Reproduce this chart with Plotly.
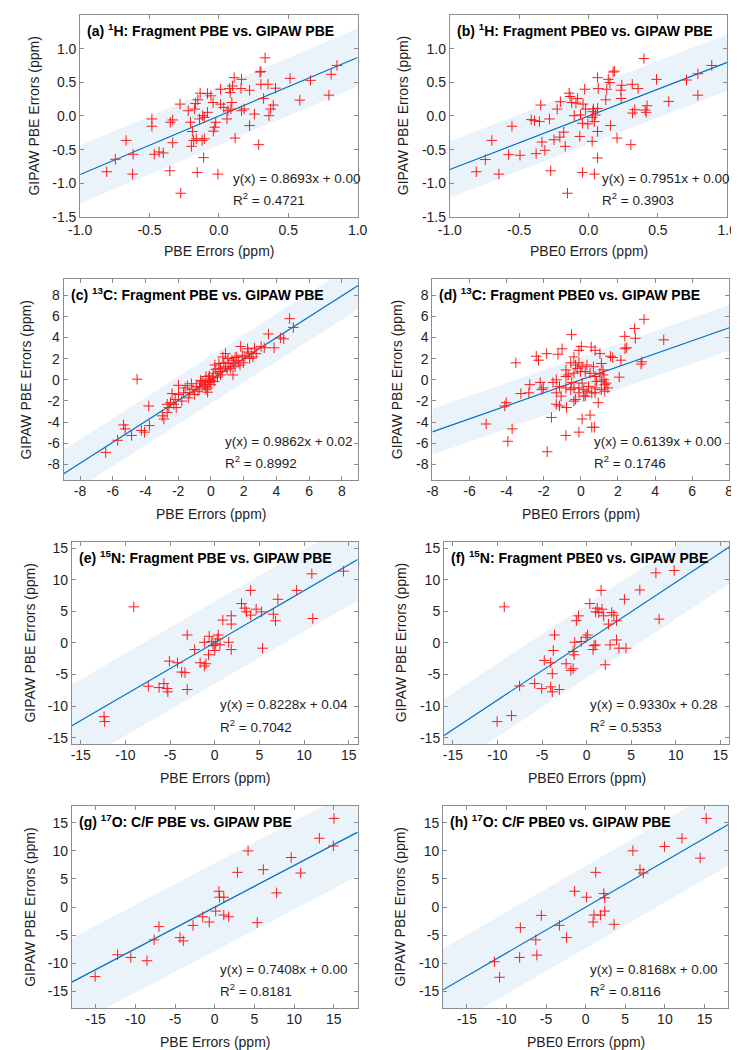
import plotly.graph_objects as go

W, H = 739, 1050

# ---------------- data ----------------
a_x = [0.333, 0.296, 0.303, 0.110, 0.163, 0.098, 0.077, 0.159, 0.221, 0.012, 0.082, 0.303, 0.354, 0.408,
       0.513, 0.660, 0.809, 0.851, 0.793, 0.583, 0.322, 0.392, 0.373, 0.361, 0.256, 0.182, 0.163, 0.086,
       0.065, 0.093, 0.012, -0.042, -0.058, -0.082, -0.135, -0.152, -0.168, -0.280, -0.175, -0.117,
       -0.105, -0.082, -0.023, -0.030, -0.040, -0.205, -0.333, -0.350, -0.483, -0.483, -0.191, -0.182,
       -0.163, -0.105, -0.121, -0.198, -0.333, -0.431, -0.401, -0.466, -0.618, -0.669, -0.746, -0.809,
       -0.622, -0.354, -0.156, -0.110, -0.007, -0.275, 0.117, 0.221, 0.287, 0.058, 0.035, -0.221, -0.140]
a_y = [0.863, 0.652, 0.662, 0.569, 0.544, 0.446, 0.407, 0.407, 0.382, 0.397, 0.348, 0.470, 0.470, 0.412,
       0.559, 0.529, 0.618, 0.750, 0.309, 0.235, 0.260, 0.162, 0.103, 0.005, 0.029, 0.103, 0.078, 0.103,
       0.078, 0.200, 0.176, 0.200, 0.299, 0.333, 0.338, 0.240, 0.186, 0.176, 0.103, 0.005,
       -0.020, 0.054, -0.093, -0.167, -0.225, -0.093, -0.059, -0.093, -0.044, -0.152, -0.230, -0.363,
       -0.338, -0.338, -0.363, -0.451, -0.397, -0.534, -0.549, -0.569, -0.569, -0.363, -0.642, -0.828,
       -0.863, -0.814, -0.838, -0.618, -0.863, -1.147, -0.328, -0.142, -0.426, -0.044, 0.127, 0.078, -0.044]

b_x = [0.399, 0.888, 0.788, 0.706, 0.788, 0.578, 0.490, 0.315, 0.357, 0.240, 0.233, 0.177, 0.186, 0.142,
       0.154, 0.065, 0.070, 0.131, 0.124, 0.235, 0.065, 0.035, 0.049, 0.026, 0.042, -0.005, -0.044,
       -0.021, -0.028, -0.079, -0.091, -0.040, -0.140, -0.133, -0.203, -0.121, -0.226, -0.103, -0.282,
       -0.345, -0.354, -0.390, -0.413, -0.552, -0.697, -0.744, -0.809, -0.646, -0.576, -0.494, -0.378,
       -0.336, -0.315, -0.249, -0.207, -0.179, -0.168, -0.063, 0.026, 0.065, 0.158, 0.205, 0.305, 0.317,
       0.333, 0.408, 0.422, 0.415, 0.065, -0.044, 0.042, -0.273, -0.152, -0.058, 0.030]
b_y = [0.853, 0.750, 0.627, 0.534, 0.309, 0.216, 0.544, 0.470, 0.407, 0.456, 0.382, 0.652, 0.667, 0.544,
       0.495, 0.569, 0.407, 0.397, 0.240, 0.260, 0.113, 0.103, 0.015, -0.020, -0.083, -0.118, -0.108,
       0.103, 0.397, 0.260, 0.191, 0.176, 0.338, 0.289, 0.211, 0.200, 0.103, 0.005, -0.044,
       0.162, -0.083, -0.069, -0.054, -0.152, -0.363, -0.647, -0.828, -0.863, -0.574, -0.583, -0.559,
       -0.387, -0.510, -0.353, -0.314, -0.240, -0.451, -0.304, -0.377, -0.230, -0.142, -0.328, -0.426, 0.044,
       0.093, 0.088, 0.152, 0.054, -0.623, -0.838, -0.863, -0.814, -1.147, 0.015, 0.064]

c_x = [4.81, 5.04, 3.52, 4.25, 4.45, 3.86, 3.26, 3.07, 2.67, 2.24, 1.82, 2.28, 2.57, 1.92, 1.58, 1.29, 0.89,
       0.73, 1.09, 1.48, 1.35, 0.49, 0.30, 0.24, 0.14, -0.10, -0.10, -0.20, -0.30, -0.40, -0.63, -0.69,
       -0.89, -0.79, -1.19, -1.29, -1.68, -1.58, -1.98, -1.98, -2.37, -2.47, -2.67, -2.57, -2.97, -2.87,
       -3.80, -4.51, -5.34, -5.24, -4.85, -4.25, -4.06, -3.76, -5.70, -6.43,
       -0.30, -0.14, 0.00, 0.10, -0.49, -0.59, -0.34, -0.20, 0.00, 0.20, 0.49, 0.59, 0.79, 0.89, 0.99, 1.19,
       1.38, 1.68, 1.78, 1.98, 2.08, 2.37, 2.47, 2.77, 1.48, 1.05, 0.59, 0.40, 0.69, -0.99, -1.38, -1.78,
       -2.12, -2.18, -2.67, -2.27, -1.09, -1.44]
c_y = [5.77, 4.94, 4.32, 3.95, 3.86, 3.02, 3.02, 3.15, 2.99, 2.93, 3.15, 2.62, 2.16, 2.31, 2.16, 1.85, 2.47,
       2.16, 1.54, 1.23, 0.46, 1.54, 0.99, 1.39, 0.62, 0.37, -0.25, -0.77, -0.93, -0.46, -0.06, -0.77,
       -0.62, -1.08, -0.37, -1.23, -1.23, -0.77, -0.52, -1.39, -1.30, -2.16, -2.31, -2.62, -3.40, -3.70,
       -2.47, 0.06, -4.26, -4.63, -5.25, -4.78, -4.94, -4.32, -5.71, -6.85,
       0.31, 0.06, -0.06, 0.15, -0.15, -0.31, -0.62, -1.17, -0.46, -0.15, 0.77, 1.08, 1.60, 1.23, 0.93, 1.08,
       1.60, 1.79, 1.39, 1.60, 2.16, 2.01, 2.47, 2.47, 2.10, 2.01, 0.46, 0.25, 0.77, -1.39, -1.70, -2.01,
       -2.62, -1.85, -3.09, -2.31, -0.93, -0.56]

d_x = [3.41, 2.90, 2.37, 2.94, 4.47, 2.47, 2.38, 1.60, 1.72, 2.16, 3.29, 3.25, 2.07, -0.50, 0.03, -0.10,
       0.56, 0.77, 1.03, -1.01, -1.23, -1.84, -2.40, -2.28, -3.50, -0.37, -0.54, -0.28, -0.10, 0.07, 0.33,
       0.68, 1.11, 1.20, -0.80, -0.68, -0.37, -1.32, -1.50, -2.19, -2.02, -2.10, -2.75, -3.23, -2.80, -1.32,
       -1.15, -1.06, -1.32, -1.15, -0.77, -0.10, 0.16, 0.24, 0.42, 0.77, 1.11, 1.29, 1.25, 0.94, -0.37, 0.07,
       0.50, 0.59, 0.73, -0.10, -0.80, -1.58, -4.02, -4.10, -5.10, -3.70, -3.93, -1.81,
       -0.19, -0.02, 0.24, 0.50, 0.77, 1.03, 1.20, 0.07, 0.33, 0.59, 0.85, 1.11, 1.37, 1.46, -0.10, 0.16,
       -0.37, -0.54, -0.80, -0.28, 0.77, 1.29, -0.80, -0.49]
d_y = [5.71, 4.85, 4.10, 3.92, 3.77, 3.02, 2.93, 2.22, 2.10, 1.85, 1.70, 1.48, 0.25, 4.26, 3.15, 2.78,
       3.09, 2.78, 2.47, 2.93, 2.41, 2.47, 2.22, 1.85, 1.60, 2.16, 1.60, 1.39, 1.60, 1.23, 1.39,
       1.23, 1.54, 0.93, 0.93, 0.46, 0.62, 0.00, -0.25, -0.25, -0.77, -0.93, -0.46, -1.30, -1.23, -1.23,
       -0.62, -1.54, -2.31, -2.47, -2.62, -0.77, -0.93, -1.54, -0.62, -0.77, -0.93, -0.46, 0.00, -2.16, -2.01, -3.70,
       -3.33, -4.48, -4.48, -4.94, -5.25, -3.55, -2.16, -2.47, -4.17, -4.63, -5.80, -6.79,
       1.08, 0.77, 0.77, 0.62, 0.31, 0.62, 0.46, -0.31, -1.08, -1.23, -0.15, -0.15, -0.31, -0.77, -1.23, -1.54,
       -0.77, -0.93, -0.77, -1.85, -1.23, -1.08, 0.31, -0.25]

e_x = [14.42, 10.87, 9.17, 4.02, 7.07, 3.00, 3.37, 3.55, 4.64, 4.02, 5.25, 6.56, 6.81, 10.98, 0.91, 1.85,
       1.85, -9.06, -3.08, -0.62, 0.40, -1.16, -0.33, 0.11, 0.58, 1.56, -2.25, -0.69, 0.00, 1.85, 5.36,
       -5.07, -4.17, -3.70, -3.33, -1.63, -1.16, -0.98, -7.43, -6.23, -5.69, -5.33, -5.25, -3.08, -12.39,
       -12.32, 0.29, -0.18]
e_y = [11.36, 10.94, 8.32, 8.32, 6.91, 6.23, 5.50, 4.92, 5.34, 4.40, 4.92, 4.55, 3.51, 3.87, 3.61, 4.29,
       2.98, 5.71, 1.26, 1.05, 1.26, 0.10, 0.21, -0.16, -0.31, 0.10, -1.05, -1.88, -1.20, -1.05, -0.84,
       -2.88, -3.14, -4.61, -4.71, -3.14, -3.66, -3.30, -6.86, -7.07, -6.44, -7.23, -7.75, -7.38, -11.68,
       -12.46, 0.63, -0.42]

f_x = [9.82, 7.77, 5.97, 1.62, 4.24, 0.36, 1.19, 1.01, 1.73, 1.37, 1.91, 2.81, 3.06, 2.45, 3.35, 8.13,
       -1.15, -0.90, -9.24, -3.60, 0.11, -0.07, -0.61, -1.33, 0.83, 1.01, 0.72, 2.63, 3.35, 3.63, 4.42,
       -3.74, -1.51, -1.40, -4.75, -4.03, -2.30, -1.76, -1.51, -3.85, 2.09, -5.83, -7.52, -5.04, -4.03,
       -3.85, -3.06, -8.42, -10.04]
f_y = [11.47, 11.10, 8.38, 8.32, 6.91, 6.23, 5.50, 4.92, 5.34, 4.82, 4.29, 4.82, 4.40, 2.98, 3.51, 3.77,
       3.51, 4.29, 5.71, 1.26, 1.26, 0.89, 0.21, 0.10, -0.42, -0.31, -1.05, -0.31, 0.47, -0.84, -0.84,
       -1.20, -1.36, -1.88, -2.77, -3.14, -3.30, -4.35, -4.08, -4.87, -3.46, -6.44, -6.81, -7.23, -6.96,
       -7.75, -7.38, -11.52, -12.46]

g_x = [15.02, 13.18, 14.94, 4.20, 9.63, 10.82, 6.12, 2.86, 7.80, 0.53, 0.61, 1.14, 0.12, -0.69, -1.51,
       1.14, 1.76, 5.35, -2.73, -7.02, -7.63, -4.37, -3.96, -12.24, -10.57, -8.53, -15.06]
g_y = [15.76, 12.24, 10.88, 10.00, 8.82, 6.06, 6.65, 6.18, 2.53, 2.82, 1.76, 1.76, -0.71, -2.65, -1.71,
       -1.41, -1.71, -2.76, -3.24, -3.47, -5.82, -5.41, -6.00, -8.47, -8.94, -9.53, -12.35]

h_x = [15.22, 12.16, 9.96, 14.45, 5.96, 6.86, 7.27, 1.27, -1.39, 0.12, 2.29, 2.41, -5.59, 1.06, 1.88,
       2.41, 0.94, 3.59, -3.31, -2.41, -8.24, -6.29, -6.16, -8.33, -11.51, -10.86]
h_y = [15.76, 12.24, 10.76, 8.71, 10.00, 6.65, 6.06, 6.18, 2.82, 1.76, 2.41, 1.65, -1.47, -1.41, -1.41,
       -0.71, -2.65, -3.06, -3.24, -5.41, -3.65, -5.82, -8.53, -8.94, -9.71, -12.47]

# fit results shown in each panel
slopes = [0.8693, 0.7951, 0.9862, 0.6139, 0.8228, 0.9330, 0.7408, 0.8168]
intercepts = [0.00, 0.00, 0.02, 0.00, 0.04, 0.28, 0.00, 0.00]
r_squared = [0.4721, 0.3903, 0.8992, 0.1746, 0.7042, 0.5353, 0.8181, 0.8116]
band_halfwidth = [0.43, 0.42, 2.25, 2.15, 6.5, 5.8, 7.8, 7.3]

titles = [
    "(a) <sup>1</sup>H: Fragment PBE vs. GIPAW PBE",
    "(b) <sup>1</sup>H: Fragment PBE0 vs. GIPAW PBE",
    "(c) <sup>13</sup>C: Fragment PBE vs. GIPAW PBE",
    "(d) <sup>13</sup>C: Fragment PBE0 vs. GIPAW PBE",
    "(e) <sup>15</sup>N: Fragment PBE vs. GIPAW PBE",
    "(f) <sup>15</sup>N: Fragment PBE0 vs. GIPAW PBE",
    "(g) <sup>17</sup>O: C/F PBE vs. GIPAW PBE",
    "(h) <sup>17</sup>O: C/F PBE0 vs. GIPAW PBE",
]
x_titles = ["PBE Errors (ppm)", "PBE0 Errors (ppm)"] * 4
y_title = "GIPAW PBE Errors (ppm)"

x_ranges = [[-1, 1], [-1, 1], [-9, 9], [-8, 8], [-16, 16], [-16, 16], [-18, 18], [-18, 18]]
y_ranges = [[-1.5, 1.5], [-1.5, 1.5], [-9.5, 9.5], [-9.5, 9.5], [-16, 16], [-16, 16], [-18, 18], [-18, 18]]

h_ticks = [-1.0, -0.5, 0.0, 0.5, 1.0]
h_ticklabels = ["-1.0", "-0.5", "0.0", "0.5", "1.0"]
h_yticks = [-1.5, -1.0, -0.5, 0.0, 0.5, 1.0, 1.5]
h_yticklabels = ["-1.5", "-1.0", "-0.5", "0.0", "0.5", "1.0", "1.5"]
c_ticks = [-8, -6, -4, -2, 0, 2, 4, 6, 8]
c_ticklabels = ["-8", "-6", "-4", "-2", "0", "2", "4", "6", "8"]
n_ticks = [-15, -10, -5, 0, 5, 10, 15]
n_ticklabels = ["-15", "-10", "-5", "0", "5", "10", "15"]

xs = [a_x, b_x, c_x, d_x, e_x, f_x, g_x, h_x]
ys = [a_y, b_y, c_y, d_y, e_y, f_y, g_y, h_y]
xtick_sets = [(h_ticks, h_ticklabels)] * 2 + [(c_ticks, c_ticklabels)] * 2 + [(n_ticks, n_ticklabels)] * 4
ytick_sets = [(h_yticks, h_yticklabels)] * 2 + [(c_ticks, c_ticklabels)] * 2 + [(n_ticks, n_ticklabels)] * 4

# ---------------- layout geometry (pixels) ----------------
boxes = [(62, 348, 5, 209), (443, 729, 5, 209),
         (45, 348.5, 271.7, 475), (425, 731, 271.7, 475),
         (53.4, 348, 537, 741), (437, 731, 537, 741),
         (53.4, 348, 803.5, 1008), (436, 730, 803.5, 1008)]
ytitle_px = [14, 395, 6, 388, 10, 393, 10, 392]
eq_frac = [0.542, 0.543, 0.54, 0.539, 0.511, 0.506, 0.511, 0.509]
xlabel_standoff = [0, 0, -2, -2, -2, -2, -2, -2]

FONT = "Liberation Sans, Arial, Helvetica, sans-serif"
SPINE = "#8c8c8c"
TXT = "#1e1e1e"
BLUE = "#0072BD"

fig = go.Figure()
layout = dict(width=W, height=H, margin=dict(l=0, r=0, t=0, b=0), autosize=False,
              paper_bgcolor="white", plot_bgcolor="white", showlegend=False,
              font=dict(family=FONT, size=14, color=TXT))
annotations = []

def px2x(p):
    return p / W

def px2y(p):
    return 1 - p / H

for i in range(8):
    n = "" if i == 0 else str(i + 1)
    xa, ya = "x" + n, "y" + n
    l, r, t, b = boxes[i]
    x0, x1 = x_ranges[i]
    m, c0, hw = slopes[i], intercepts[i], band_halfwidth[i]

    # shaded band around the fit
    fig.add_trace(go.Scatter(
        x=[x0, x1, x1, x0, x0],
        y=[m * x0 + c0 + hw, m * x1 + c0 + hw, m * x1 + c0 - hw, m * x0 + c0 - hw, m * x0 + c0 + hw],
        fill="toself", fillcolor="rgba(0,114,189,0.085)", line=dict(width=0),
        mode="lines", hoverinfo="skip", xaxis=xa, yaxis=ya))
    # fit line
    fig.add_trace(go.Scatter(
        x=[x0, x1], y=[m * x0 + c0, m * x1 + c0], mode="lines",
        line=dict(color=BLUE, width=1.2), xaxis=xa, yaxis=ya))
    # points
    fig.add_trace(go.Scatter(
        x=xs[i], y=ys[i], mode="markers",
        marker=dict(symbol="cross-thin", size=7.5, line=dict(color="#ff1a1a", width=1)),
        xaxis=xa, yaxis=ya, cliponaxis=True))

    tv, tt = xtick_sets[i]
    ytv, ytt = ytick_sets[i]
    axis_common = dict(showline=True, linecolor=SPINE, linewidth=1, mirror="ticks",
                       ticks="inside", ticklen=4, tickcolor=SPINE, tickwidth=1,
                       showgrid=False, zeroline=False,
                       tickfont=dict(family=FONT, size=14, color=TXT))
    layout["xaxis" + n] = dict(domain=[px2x(l), px2x(r)], range=[x0, x1], anchor=ya,
                               tickvals=tv, ticktext=tt, ticklabelstandoff=xlabel_standoff[i],
                               **axis_common)
    layout["yaxis" + n] = dict(domain=[px2y(b), px2y(t)], range=y_ranges[i], anchor=xa,
                               tickvals=ytv, ticktext=ytt, **axis_common)

    # panel title inside the box
    annotations.append(dict(text="<b>" + titles[i] + "</b>", xref="paper", yref="paper",
                            x=px2x(l + 5), y=px2y(t + 15), xanchor="left", yanchor="middle",
                            showarrow=False, font=dict(family=FONT, size=14, color="black")))
    # fit equation and R^2
    ex = l + eq_frac[i] * (r - l)
    annotations.append(dict(text=f"y(x) = {m:.4f}x + {c0:.2f}", xref="paper", yref="paper",
                            x=px2x(ex), y=px2y(b - 0.193 * (b - t)), xanchor="left", yanchor="middle",
                            showarrow=False, font=dict(family=FONT, size=13.5, color=TXT)))
    annotations.append(dict(text=f"R<sup>2</sup> = {r_squared[i]:.4f}", xref="paper", yref="paper",
                            x=px2x(ex), y=px2y(b - 0.09 * (b - t)), xanchor="left", yanchor="middle",
                            showarrow=False, font=dict(family=FONT, size=13.5, color=TXT)))
    # axis titles
    annotations.append(dict(text=x_titles[i], xref="paper", yref="paper",
                            x=px2x((l + r) / 2), y=px2y(b + 34), xanchor="center", yanchor="middle",
                            showarrow=False, font=dict(family=FONT, size=14, color=TXT)))
    annotations.append(dict(text=y_title, xref="paper", yref="paper", textangle=-90,
                            x=px2x(ytitle_px[i]), y=px2y((t + b) / 2), xanchor="center", yanchor="middle",
                            showarrow=False, font=dict(family=FONT, size=14, color=TXT)))

layout["annotations"] = annotations
fig.update_layout(**layout)
fig.write_html("out.html")
